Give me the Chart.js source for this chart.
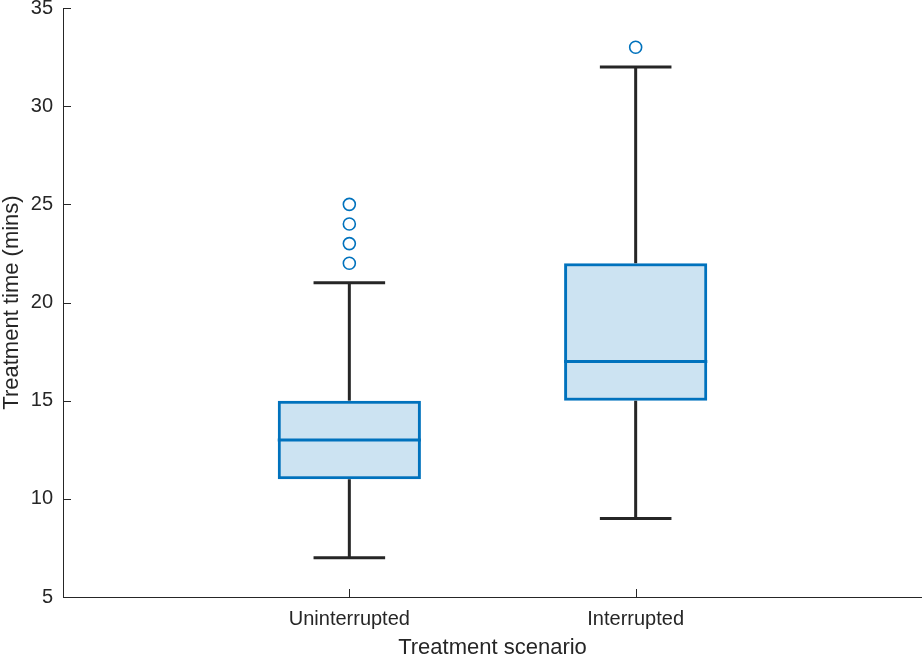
<!DOCTYPE html>
<html>
<head>
<meta charset="utf-8">
<script src="https://cdn.jsdelivr.net/npm/chart.js@4.4.1/dist/chart.umd.min.js"></script>
<style>
    html, body { margin: 0; padding: 0; background: #fff; }
    #wrap { width: 922px; height: 658px; position: relative; }
</style>
</head>
<body>
<div id="wrap"><canvas id="boxChart"></canvas></div>
<script>
const categories = ['Uninterrupted', 'Interrupted'];
const positions = [1, 2];
const lowerWhisker = [7, 9];
const q1 = [11, 15];
const median = [13, 17];
const q3 = [15, 22];
const upperWhisker = [21, 32];
const outliers = [[22, 23, 24, 25], [33]];
const yTicks = [5, 10, 15, 20, 25, 30, 35];

const boxBlue = '#0072BD';
const axisColor = '#262626';
const boxHalf = 0.25, capHalf = 0.125;

function lineSet(points, color) {
    return {
        type: 'line', data: points, borderColor: color, borderWidth: 3,
        pointRadius: 0, fill: false, order: 0, borderCapStyle: 'butt'
    };
}

const datasets = [];

positions.forEach((p, i) => {
    datasets.push(lineSet([{ x: p - boxHalf, y: median[i] }, { x: p + boxHalf, y: median[i] }], boxBlue));
    datasets.push(lineSet([{ x: p, y: q3[i] }, { x: p, y: upperWhisker[i] }], axisColor));
    datasets.push(lineSet([{ x: p, y: q1[i] }, { x: p, y: lowerWhisker[i] }], axisColor));
    datasets.push(lineSet([{ x: p - capHalf, y: upperWhisker[i] }, { x: p + capHalf, y: upperWhisker[i] }], axisColor));
    datasets.push(lineSet([{ x: p - capHalf, y: lowerWhisker[i] }, { x: p + capHalf, y: lowerWhisker[i] }], axisColor));
    datasets.push({
        type: 'line', showLine: false, order: 0,
        data: outliers[i].map(v => ({ x: p, y: v })),
        pointStyle: 'circle', pointRadius: 6, pointBorderWidth: 1.6,
        pointBorderColor: boxBlue, pointBackgroundColor: 'rgba(0,0,0,0)'
    });
});

datasets.push({
    type: 'bar', order: 2,
    data: positions.map((p, i) => ({ x: p, y: [q1[i], q3[i]] })),
    backgroundColor: 'rgba(0,114,189,0.2)',
    borderColor: boxBlue, borderWidth: 3, borderSkipped: false,
    categoryPercentage: 1, barPercentage: 0.5
});

// MATLAB style ticks pointing into the plot
const inwardTicks = {
    id: 'inwardTicks',
    afterDraw(chart) {
        const { ctx, chartArea, scales } = chart;
        ctx.save();
        ctx.strokeStyle = axisColor;
        ctx.lineWidth = 1;
        ctx.beginPath();
        yTicks.forEach(v => {
            const y = Math.round(scales.y.getPixelForValue(v)) + 0.5;
            ctx.moveTo(chartArea.left, y);
            ctx.lineTo(chartArea.left + 8, y);
        });
        positions.forEach(p => {
            const x = Math.round(scales.x.getPixelForValue(p)) + 0.5;
            ctx.moveTo(x, chartArea.bottom);
            ctx.lineTo(x, chartArea.bottom - 8);
        });
        ctx.stroke();
        ctx.restore();
    }
};

const tickFont = { family: '"Liberation Sans", Arial, sans-serif', size: 20 };
const titleFont = { family: '"Liberation Sans", Arial, sans-serif', size: 22, lineHeight: 1 };

new Chart(document.getElementById('boxChart'), {
    data: { datasets },
    plugins: [inwardTicks],
    options: {
        responsive: true,
        maintainAspectRatio: false,
        animation: false,
        layout: { autoPadding: false, padding: { top: 8, right: 0, left: 0, bottom: 0 } },
        plugins: { legend: { display: false }, tooltip: { enabled: false } },
        scales: {
            x: {
                type: 'linear', min: 0, max: 3, offset: false,
                afterBuildTicks: s => { s.ticks = positions.map(v => ({ value: v })); },
                afterFit: s => { s.height = 61; s.paddingLeft = 0; s.paddingRight = 0; },
                grid: { display: false, drawTicks: false },
                border: { display: true, color: axisColor, width: 1 },
                ticks: {
                    color: axisColor, font: tickFont, padding: 10, maxRotation: 0,
                    callback: v => categories[positions.indexOf(v)] || ''
                },
                title: { display: true, text: 'Treatment scenario', color: axisColor, font: titleFont, padding: { top: 0, bottom: -1 } }
            },
            y: {
                type: 'linear', min: 5, max: 35,
                afterBuildTicks: s => { s.ticks = yTicks.map(v => ({ value: v })); },
                afterFit: s => { s.width = 63; s.paddingTop = 0; s.paddingBottom = 0; },
                grid: { display: false, drawTicks: false },
                border: { display: true, color: axisColor, width: 1 },
                ticks: { color: axisColor, font: tickFont, padding: 10 },
                title: { display: true, text: 'Treatment time (mins)', color: axisColor, font: titleFont, padding: { top: 1, bottom: 0 } }
            }
        }
    }
});
</script>
</body>
</html>
